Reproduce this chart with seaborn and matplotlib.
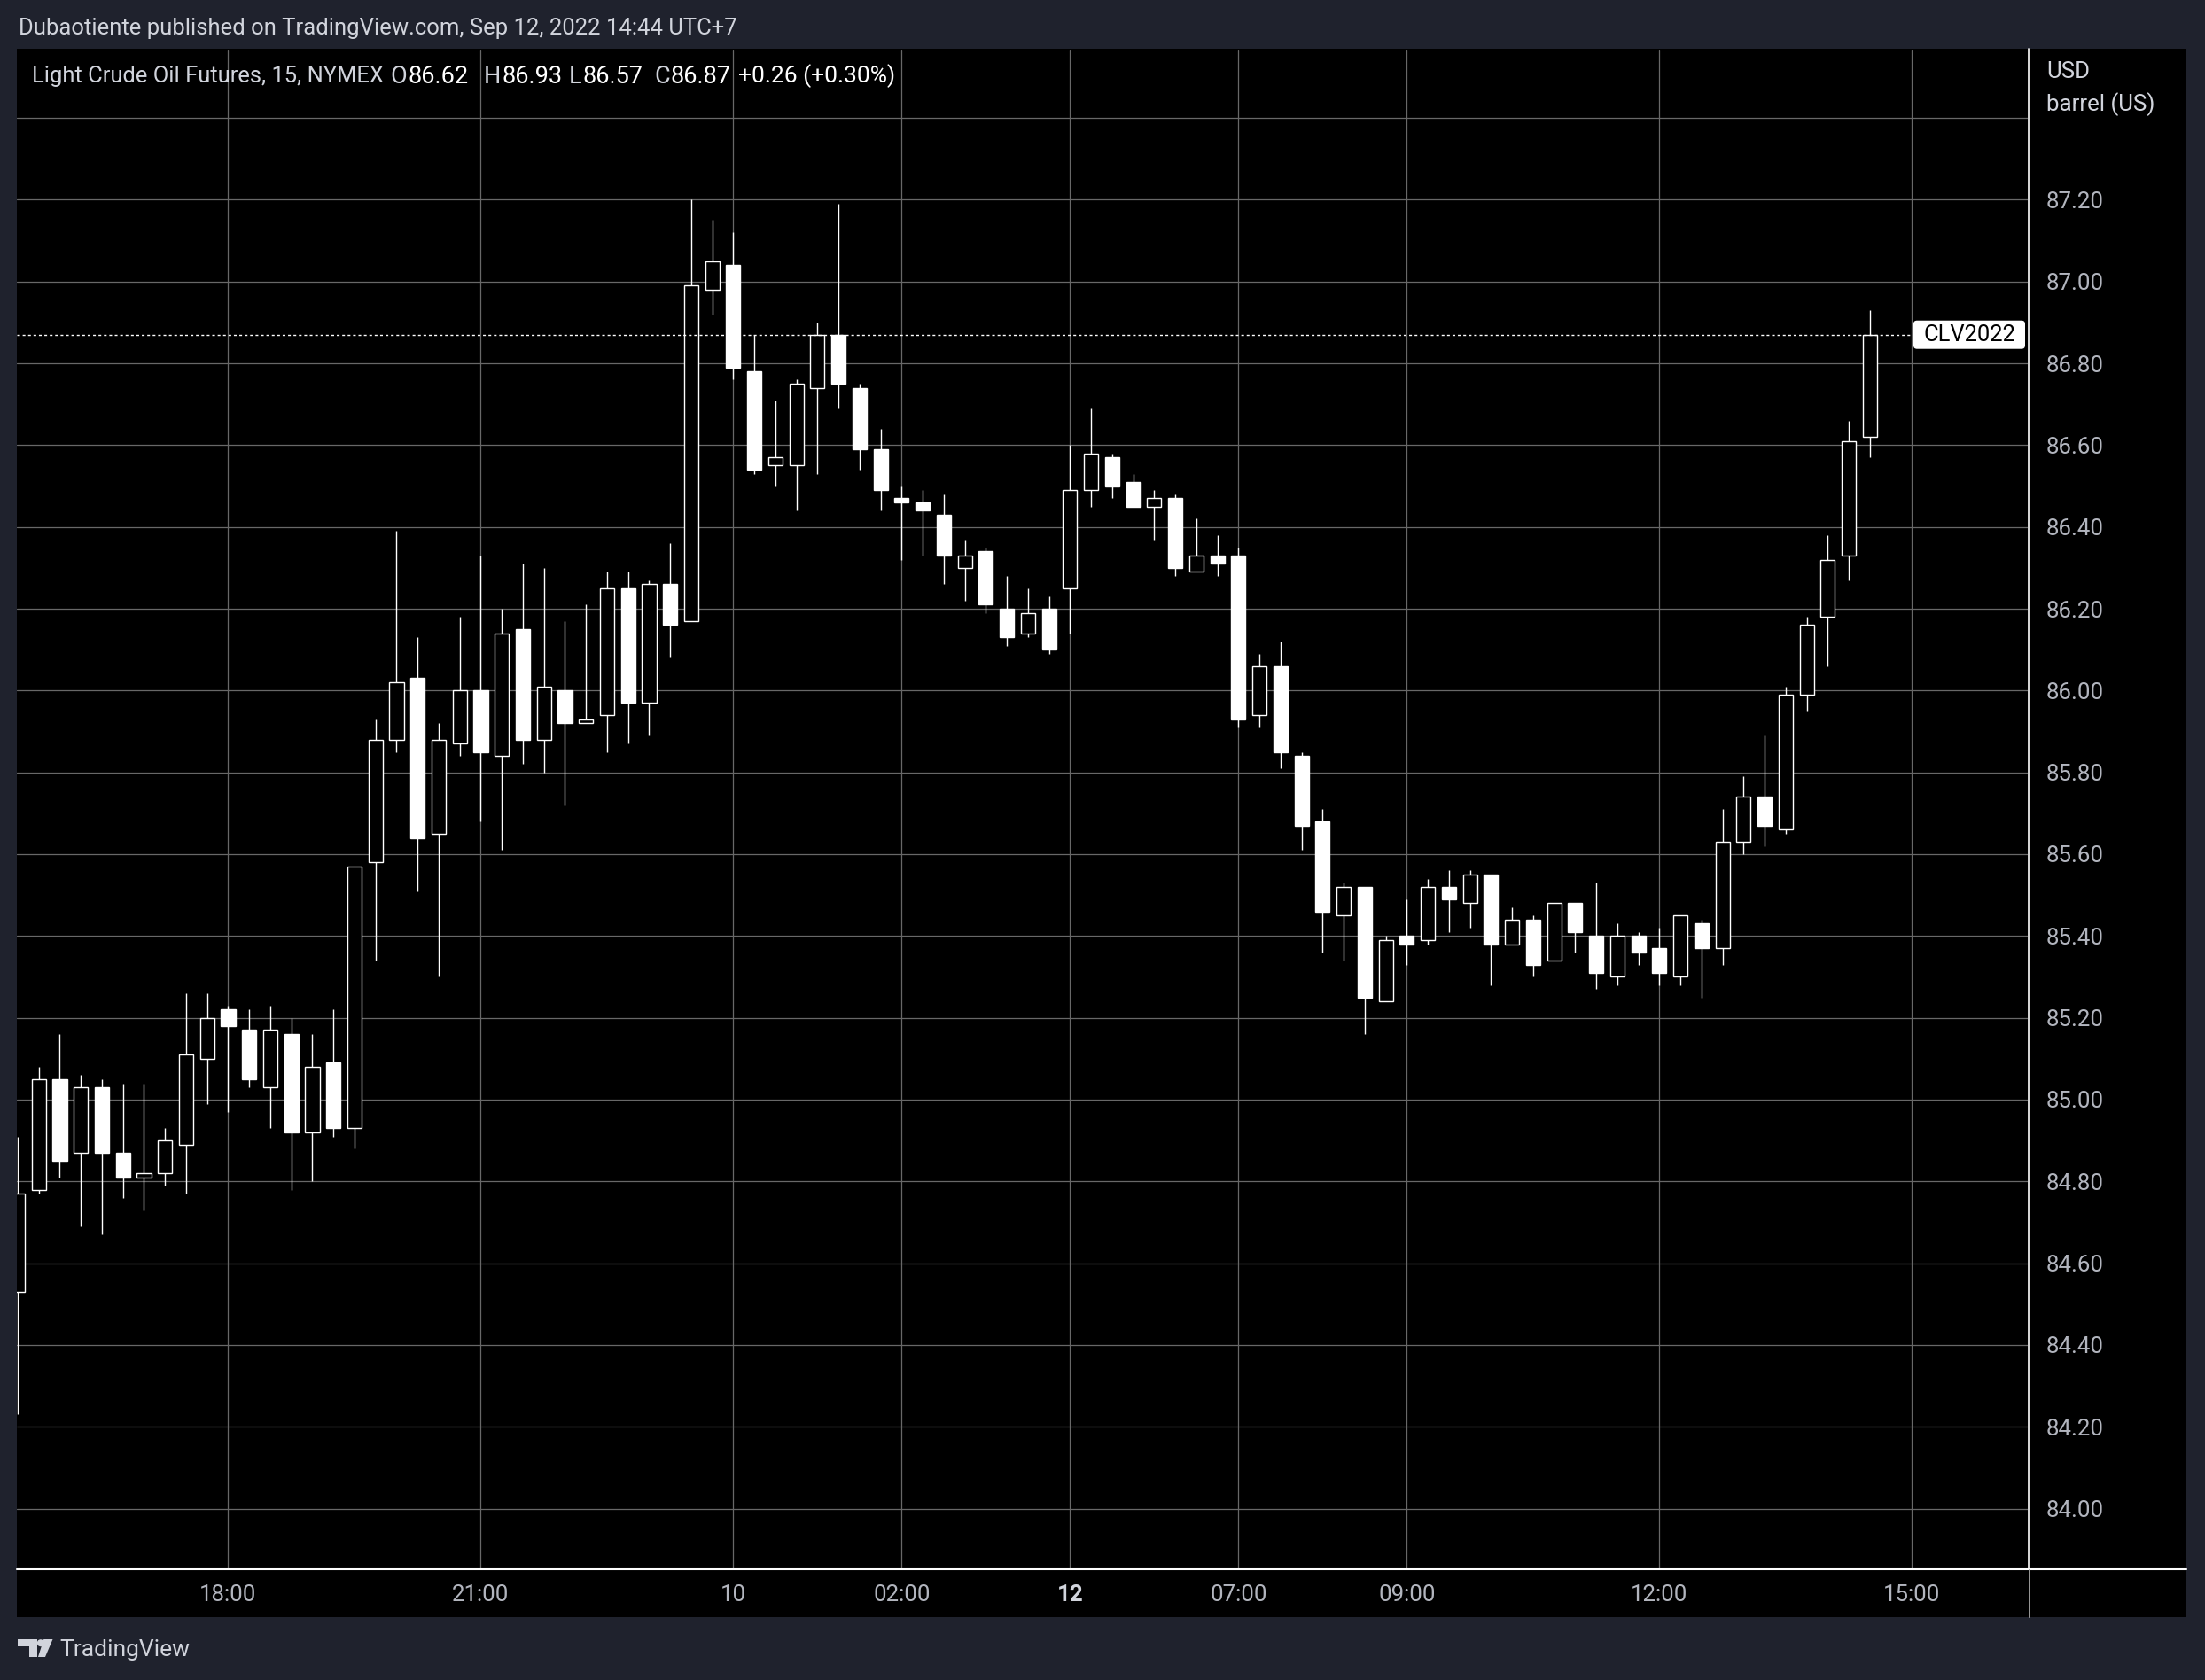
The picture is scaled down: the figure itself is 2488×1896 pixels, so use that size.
import matplotlib
matplotlib.use("Agg")
import matplotlib.pyplot as plt
import seaborn as sns
import numpy as np
import pandas as pd
from matplotlib.patches import Rectangle, Polygon, Circle, FancyBboxPatch
from matplotlib.lines import Line2D
from matplotlib.transforms import Affine2D

# ---------------- data (15-minute candles, CLV2022) ----------------
opens = [84.53, 84.78, 85.05, 84.87, 85.03, 84.87, 84.81, 84.82, 84.89, 85.10,
         85.22, 85.17, 85.03, 85.16, 84.92, 85.09, 84.93, 85.58, 85.88, 86.03,
         85.65, 85.87, 86.00, 85.84, 86.15, 85.88, 86.00, 85.92, 85.94, 86.25,
         85.97, 86.26, 86.17, 86.98, 87.04, 86.78, 86.55, 86.55, 86.74, 86.87,
         86.74, 86.59, 86.47, 86.46, 86.43, 86.30, 86.34, 86.20, 86.14, 86.20,
         86.25, 86.49, 86.57, 86.51, 86.45, 86.47, 86.29, 86.33, 86.33, 85.94,
         86.06, 85.84, 85.68, 85.45, 85.52, 85.24, 85.40, 85.39, 85.52, 85.48,
         85.55, 85.38, 85.44, 85.34, 85.48, 85.40, 85.30, 85.40, 85.37, 85.30,
         85.43, 85.37, 85.63, 85.74, 85.66, 85.99, 86.18, 86.33, 86.62]
highs = [84.91, 85.08, 85.16, 85.06, 85.05, 85.04, 85.04, 84.93, 85.26, 85.26,
         85.23, 85.22, 85.23, 85.20, 85.16, 85.22, 85.57, 85.93, 86.39, 86.13,
         85.92, 86.18, 86.33, 86.20, 86.31, 86.30, 86.17, 86.21, 86.29, 86.29,
         86.27, 86.36, 87.20, 87.15, 87.12, 86.87, 86.71, 86.76, 86.90, 87.19,
         86.75, 86.64, 86.50, 86.49, 86.48, 86.37, 86.35, 86.28, 86.25, 86.23,
         86.60, 86.69, 86.58, 86.53, 86.49, 86.48, 86.42, 86.38, 86.35, 86.09,
         86.12, 85.85, 85.71, 85.53, 85.52, 85.40, 85.49, 85.54, 85.56, 85.56,
         85.55, 85.47, 85.45, 85.48, 85.48, 85.53, 85.43, 85.41, 85.42, 85.45,
         85.44, 85.71, 85.79, 85.89, 86.01, 86.18, 86.38, 86.66, 86.93]
lows = [84.23, 84.77, 84.81, 84.69, 84.67, 84.76, 84.73, 84.79, 84.77, 84.99,
        84.97, 85.03, 84.93, 84.78, 84.80, 84.91, 84.88, 85.34, 85.85, 85.51,
        85.30, 85.84, 85.68, 85.61, 85.82, 85.80, 85.72, 85.92, 85.85, 85.87,
        85.89, 86.08, 86.17, 86.92, 86.76, 86.53, 86.50, 86.44, 86.53, 86.69,
        86.54, 86.44, 86.32, 86.33, 86.26, 86.22, 86.19, 86.11, 86.13, 86.09,
        86.14, 86.45, 86.47, 86.45, 86.37, 86.28, 86.29, 86.28, 85.91, 85.91,
        85.81, 85.61, 85.36, 85.34, 85.16, 85.24, 85.33, 85.38, 85.41, 85.42,
        85.28, 85.38, 85.30, 85.34, 85.36, 85.27, 85.28, 85.33, 85.28, 85.28,
        85.25, 85.33, 85.60, 85.62, 85.65, 85.95, 86.06, 86.27, 86.57]
closes = [84.77, 85.05, 84.85, 85.03, 84.87, 84.81, 84.82, 84.90, 85.11, 85.20,
          85.18, 85.05, 85.17, 84.92, 85.08, 84.93, 85.57, 85.88, 86.02, 85.64,
          85.88, 86.00, 85.85, 86.14, 85.88, 86.01, 85.92, 85.93, 86.25, 85.97,
          86.26, 86.16, 86.99, 87.05, 86.79, 86.54, 86.57, 86.75, 86.87, 86.75,
          86.59, 86.49, 86.46, 86.44, 86.33, 86.33, 86.21, 86.13, 86.19, 86.10,
          86.49, 86.58, 86.50, 86.45, 86.47, 86.30, 86.33, 86.31, 85.93, 86.06,
          85.85, 85.67, 85.46, 85.52, 85.25, 85.39, 85.38, 85.52, 85.49, 85.55,
          85.38, 85.44, 85.33, 85.48, 85.41, 85.31, 85.40, 85.36, 85.31, 85.45,
          85.37, 85.63, 85.74, 85.67, 85.99, 86.16, 86.32, 86.61, 86.87]

time_tick_pos = [10, 22, 34, 42, 50, 58, 66, 78, 90]
time_tick_labels = ["18:00", "21:00", "10", "02:00", "12", "07:00", "09:00", "12:00", "15:00"]
bold_time_labels = ["12"]
price_ticks = [84.00, 84.20, 84.40, 84.60, 84.80, 85.00, 85.20, 85.40, 85.60,
               85.80, 86.00, 86.20, 86.40, 86.60, 86.80, 87.00, 87.20, 87.40]
hidden_price_labels = [87.40]  # covered by the unit caption in the original
last_price = 86.87
symbol_label = "CLV2022"
header_text = "Dubaotiente published on TradingView.com, Sep 12, 2022 14:44 UTC+7"
legend_title = "Light Crude Oil Futures, 15, NYMEX"
legend_ohlc = [("O", "86.62"), ("H", "86.93"), ("L", "86.57"), ("C", "86.87")]
legend_change = "+0.26 (+0.30%)"
unit_lines = ["USD", "barrel (US)"]
brand_text = "TradingView"

# ---------------- style ----------------
sns.set_theme(style="dark")
plt.rcParams["font.family"] = ["Roboto", "DejaVu Sans"]

W, H, DPI = 2488, 1896, 200
BG = "#1f222d"
GRID = "#686868"
TXT = "#d1d4dc"
AXTXT = "#b2b5be"

fig = plt.figure(figsize=(W / DPI, H / DPI), dpi=DPI, facecolor=BG)
pix = Affine2D().scale(1, -1).translate(0, H)  # pixel coords, y downwards


def fx(px):
    return px / W


def fy(py):
    return 1 - py / H


# black chart panel
fig.patches.append(Rectangle((19, 55), 2448, 1770, transform=pix,
                             facecolor="black", edgecolor="none", zorder=-5))

ax = fig.add_axes([fx(19), fy(1770), fx(2288) - fx(19), fy(55.5) - fy(1770)])
ax.set_facecolor("black")

df = pd.DataFrame({"open": opens, "high": highs, "low": lows, "close": closes})
df["x"] = np.arange(len(df))
df["up"] = df["close"] >= df["open"]
df["bottom"] = df[["open", "close"]].min(axis=1)
df["height"] = (df["close"] - df["open"]).abs()

ax.vlines(df["x"], df["low"], df["high"], color="white", linewidth=0.5, zorder=3)
ax.bar(df["x"], df["height"], bottom=df["bottom"], width=0.68,
       color=np.where(df["up"], "black", "white"), edgecolor="white",
       linewidth=0.5, zorder=4)

# last price dotted line
ax.axhline(last_price, xmin=0, xmax=(2157 - 19) / (2288 - 19), color="white",
           linewidth=0.5, linestyle=(0, (2.2, 2.2)), zorder=5)

ax.set_xlim(-0.04, 95.5)
ax.set_ylim(83.854, 87.568)
ax.set_xticks(time_tick_pos)
ax.set_xticklabels(time_tick_labels)
ax.set_yticks(price_ticks)
ax.set_yticklabels(["" if p in hidden_price_labels else f"{p:.2f}" for p in price_ticks])
ax.yaxis.tick_right()
ax.grid(True, color=GRID, linewidth=0.45)
ax.set_axisbelow(True)
for s in ax.spines.values():
    s.set_visible(False)
ax.tick_params(axis="y", length=0, pad=7.4, labelsize=9.3, labelcolor=AXTXT)
ax.tick_params(axis="x", length=0, pad=6.5, labelsize=9.3, labelcolor=AXTXT)
for lab in ax.get_xticklabels():
    if lab.get_text() in bold_time_labels:
        lab.set_fontweight("bold")
        lab.set_color(TXT)

# separators
fig.lines.append(Line2D([19, 2467], [1771, 1771], transform=pix, color="white", linewidth=0.75, zorder=2))
fig.lines.append(Line2D([2288.5, 2288.5], [55, 1771], transform=pix, color="white", linewidth=0.6, zorder=2))
fig.lines.append(Line2D([2288.5, 2288.5], [1771, 1825], transform=pix, color="#9a9a9a", linewidth=0.35, zorder=2))

fig.canvas.draw()
r = fig.canvas.get_renderer()

# symbol label box at the end of the last-price line
y_last = H - ax.transData.transform((0, last_price))[1]
fig.patches.append(FancyBboxPatch((2159, y_last - 16), 126, 32, transform=pix,
                                  boxstyle="round,pad=0,rounding_size=4",
                                  facecolor="white", edgecolor="none", zorder=3))
fig.text(fx(2222), fy(y_last), symbol_label, fontsize=9.2, color="black",
         ha="center", va="center", zorder=4)


def width_at(s, size):
    t = fig.text(0, 0, s, fontsize=size)
    w = t.get_window_extent(r).width
    t.remove()
    return w


def fit_size(s, target_w):
    return 10 * target_w / width_at(s, 10)


def fit_text(x, y, s, target_w, **kw):
    return fig.text(fx(x), fy(y), s, fontsize=fit_size(s, target_w),
                    va="center", ha="left", zorder=3, **kw)


# header
fit_text(21, 32, header_text, 807, color=TXT)

# legend line: title, then O/H/L/C letters and values
fit_text(36, 86, legend_title, 396, color=TXT)
fs_val = fit_size("86.62", 68)
letter_x = [440.5, 546, 642, 738]
for (letter, val), xl in zip(legend_ohlc, letter_x):
    wl = width_at(letter, fs_val)
    fig.text(fx(xl), fy(86), letter, fontsize=fs_val, color=TXT, va="center", ha="left", zorder=3)
    fig.text(fx(xl + wl + 1), fy(86), val, fontsize=fs_val, color="white", va="center", ha="left", zorder=3)
fit_text(833, 86, legend_change, 177, color="white")

# units on the price scale
fig.text(fx(2309), fy(81), unit_lines[0], fontsize=9.3, color=TXT, va="center", ha="left", zorder=3)
fig.text(fx(2309), fy(118), unit_lines[1], fontsize=9.3, color=TXT, va="center", ha="left", zorder=3)

# TradingView brand mark
LOGO = "#d1d4dc"
fig.patches.append(Polygon([(20, 1850), (41.7, 1850), (41.7, 1870), (32.7, 1870),
                            (32.7, 1857.7), (20, 1857.7)], closed=True,
                           transform=pix, facecolor=LOGO, edgecolor="none", zorder=3))
fig.patches.append(Circle((45.8, 1854.2), 4.0, transform=pix, facecolor=LOGO,
                          edgecolor="none", zorder=3))
fig.patches.append(Polygon([(49.3, 1850), (59.5, 1850), (51.0, 1870), (43.0, 1870)],
                           closed=True, transform=pix, facecolor=LOGO, edgecolor="none", zorder=3))
fit_text(67, 1862, brand_text, 147, color=LOGO)

fig.savefig("out.png", dpi=DPI, facecolor=BG)
